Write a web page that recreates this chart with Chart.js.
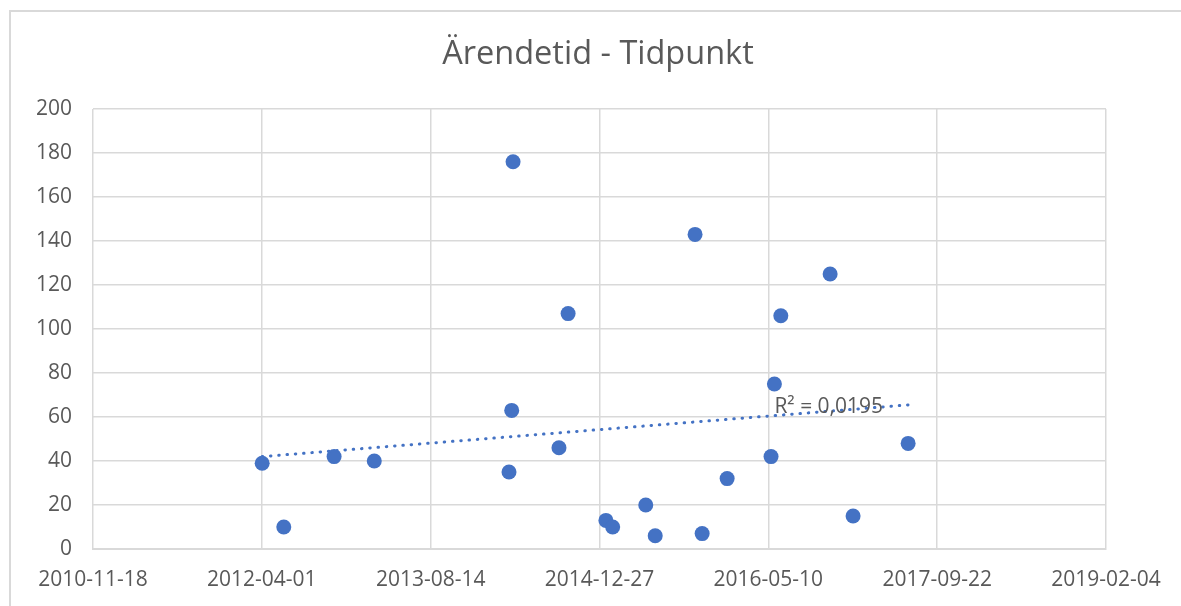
<!DOCTYPE html>
<html>
<head>
<meta charset="utf-8">
<script src="https://cdn.jsdelivr.net/npm/chart.js@4"></script>
<style>
  html, body { margin: 0; padding: 0; background: #fff; }
  #frame {
    position: absolute; left: 9px; top: 10px; width: 1180px; height: 620px;
    border: 2px solid #d9d9d9; box-sizing: border-box;
  }
  #wrap { position: absolute; left: 0; top: 0; width: 1181px; height: 606px; }
</style>
</head>
<body>
<div id="frame"></div>
<div id="wrap"><canvas id="chart"></canvas></div>
<script>
// x values are Excel date serials (days since 1899-12-30)
const dagar = [41001, 41065, 41214, 41333, 41732, 41740, 41744, 41880, 41907, 42019, 42039,
               42137, 42165, 42283, 42304, 42378, 42508, 42518, 42537, 42683, 42751, 42914];
const arendetid = [39, 10, 42, 40, 35, 63, 176, 46, 107, 13, 10,
                   20, 6, 143, 7, 32, 42, 75, 106, 125, 15, 48];
const trendX = [41001, 42914];
const trendY = [42.0, 65.5];
const r2Text = 'R² = 0,0195';
const titel = 'Ärendetid - Tidpunkt';
const xMin = 40500, xMax = 43500, xStep = 500;
const yMin = 0, yMax = 200, yStep = 20;

function serialTillDatum(v) {
    const d = new Date(Date.UTC(1899, 11, 30) + v * 86400000);
    return d.toISOString().slice(0, 10);
}

const gray = '#595959';
const gridColor = '#d9d9d9';
const blue = '#4472C4';
const font = 'Open Sans';

// title is centred on the whole frame, not the plot area
const titelPlugin = {
    id: 'titelPlugin',
    afterDraw(chart) {
        const ctx = chart.ctx;
        ctx.save();
        ctx.font = '32.5px "' + font + '"';
        ctx.fillStyle = gray;
        ctx.textAlign = 'center';
        ctx.textBaseline = 'middle';
        ctx.fillText(titel, 598, 55);
        ctx.restore();
    }
};

const r2Label = {
    id: 'r2Label',
    afterDatasetsDraw(chart) {
        const ctx = chart.ctx;
        const x = chart.scales.x.getPixelForValue(42518);
        const y = chart.scales.y.getPixelForValue(64.5);
        ctx.save();
        ctx.font = '21px "' + font + '"';
        ctx.fillStyle = gray;
        ctx.textAlign = 'left';
        ctx.textBaseline = 'middle';
        ctx.fillText(r2Text, x, y);
        ctx.restore();
    }
};

new Chart(document.getElementById('chart'), {
    type: 'scatter',
    data: {
        datasets: [{
            data: dagar.map((d, i) => ({ x: d, y: arendetid[i] })),
            backgroundColor: blue,
            borderWidth: 0,
            pointRadius: 7.5,
            order: 2
        }, {
            type: 'line',
            data: trendX.map((d, i) => ({ x: d, y: trendY[i] })),
            borderColor: blue,
            borderWidth: 3,
            borderDash: [0.5, 7.8],
            borderCapStyle: 'round',
            pointRadius: 0,
            fill: false,
            order: 1
        }]
    },
    options: {
        responsive: true,
        maintainAspectRatio: false,
        animation: false,
        layout: { padding: { left: 0, right: 75, top: 109, bottom: 0 } },
        plugins: {
            legend: { display: false },
            tooltip: { enabled: false },
            title: { display: false }
        },
        scales: {
            x: {
                type: 'linear',
                min: xMin, max: xMax,
                afterBuildTicks: (scale) => {
                    scale.ticks = [];
                    for (let v = xMin; v <= xMax; v += xStep) scale.ticks.push({ value: v });
                },
                afterFit: (scale) => { scale.height = 57; },
                grid: { color: gridColor, lineWidth: 1.5, drawTicks: false },
                border: { color: gridColor, width: 2 },
                ticks: {
                    color: gray,
                    font: { family: font, size: 21 },
                    padding: 18,
                    maxRotation: 0,
                    autoSkip: false,
                    callback: (v) => serialTillDatum(v)
                }
            },
            y: {
                min: yMin, max: yMax,
                afterFit: (scale) => { scale.width = 93; },
                grid: { color: gridColor, lineWidth: 1.5, drawTicks: false },
                border: { display: false },
                ticks: {
                    stepSize: yStep,
                    color: gray,
                    font: { family: font, size: 21 },
                    padding: 21
                }
            }
        }
    },
    plugins: [r2Label, titelPlugin]
});
</script>
</body>
</html>
